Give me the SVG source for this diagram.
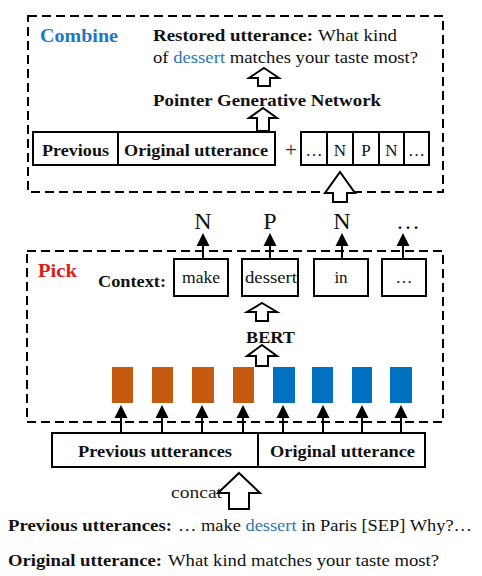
<svg xmlns="http://www.w3.org/2000/svg" width="482" height="576" viewBox="0 0 482 576">
<style>
text{font-family:"Liberation Serif","Times New Roman",serif;fill:#111}
.b{font-weight:bold}
.box{fill:#fff;stroke:#000;stroke-width:2}
.dash{fill:none;stroke:#000;stroke-width:2;stroke-dasharray:9 5}
.hol{fill:#fff;stroke:#000;stroke-width:2;stroke-linejoin:miter}
.con{stroke:#000;stroke-width:2;fill:none}
.blue{fill:#2E75B6}
.or{fill:#C55A11}
.bl{fill:#0070C0}
</style>
<defs>
<marker id="ah" markerUnits="userSpaceOnUse" markerWidth="14" markerHeight="14" viewBox="0 0 14 14" refX="5" refY="7" orient="auto">
<path d="M0,0.5 L13,7 L0,13.5 Z" fill="#000"/>
</marker>
</defs>
<rect width="482" height="576" fill="#fff"/>

<g id="combine">
<rect class="dash" x="28" y="16" width="415" height="176"/>
<text x="40" y="42" font-size="18" class="b" style="fill:#1F77C0" textLength="78" lengthAdjust="spacingAndGlyphs">Combine</text>
<text x="153" y="41" font-size="17" class="b" textLength="160" lengthAdjust="spacingAndGlyphs">Restored utterance:</text>
<text x="318" y="41" font-size="17" textLength="79" lengthAdjust="spacingAndGlyphs">What kind</text>
<text x="153" y="63" font-size="17" textLength="265" lengthAdjust="spacingAndGlyphs">of <tspan class="blue">dessert</tspan> matches your taste most?</text>
<text x="153" y="106" font-size="17" class="b" textLength="228" lengthAdjust="spacingAndGlyphs">Pointer Generative Network</text>
</g>

<g id="seqbox">
<rect class="box" x="33" y="132" width="242" height="33"/>
<line class="con" x1="118" y1="132" x2="118" y2="165"/>
<text x="42" y="156" font-size="17" class="b" textLength="67" lengthAdjust="spacingAndGlyphs">Previous</text>
<text x="124" y="156" font-size="17" class="b" textLength="144" lengthAdjust="spacingAndGlyphs">Original utterance</text>
</g>

<g id="plus">
<text x="291" y="157" font-size="22" text-anchor="middle" style="fill:#333">+</text>
</g>

<g id="tagbox">
<rect class="box" x="301" y="132" width="128" height="33"/>
<line class="con" x1="327" y1="132" x2="327" y2="165"/>
<line class="con" x1="353" y1="132" x2="353" y2="165"/>
<line class="con" x1="379" y1="132" x2="379" y2="165"/>
<line class="con" x1="404" y1="132" x2="404" y2="165"/>
<text x="314" y="156" font-size="17" text-anchor="middle">…</text>
<text x="340" y="156" font-size="17" text-anchor="middle">N</text>
<text x="366" y="156" font-size="17" text-anchor="middle">P</text>
<text x="391.5" y="156" font-size="17" text-anchor="middle">N</text>
<text x="416.5" y="156" font-size="17" text-anchor="middle">…</text>
</g>

<g id="tags">
<text x="203" y="229" font-size="24" text-anchor="middle">N</text>
<text x="270" y="229" font-size="24" text-anchor="middle">P</text>
<text x="342" y="229" font-size="24" text-anchor="middle">N</text>
<text x="408" y="229" font-size="24" text-anchor="middle">…</text>
</g>

<g id="pick">
<rect class="dash" x="27" y="251" width="416" height="171"/>
<text x="38" y="277" font-size="18" class="b" style="fill:#E01B1B" textLength="39" lengthAdjust="spacingAndGlyphs">Pick</text>
<text x="98" y="287" font-size="17" class="b" textLength="68" lengthAdjust="spacingAndGlyphs">Context:</text>
<text x="246" y="343" font-size="17" class="b" textLength="49" lengthAdjust="spacingAndGlyphs">BERT</text>
</g>

<g id="context">
<rect class="box" x="174" y="259" width="54" height="37"/>
<text x="182" y="283" font-size="17" textLength="38" lengthAdjust="spacingAndGlyphs">make</text>
<rect class="box" x="242" y="259" width="56" height="37"/>
<text x="245" y="283" font-size="17" textLength="52" lengthAdjust="spacingAndGlyphs">dessert</text>
<rect class="box" x="314" y="259" width="54" height="37"/>
<text x="341" y="283" font-size="17" text-anchor="middle">in</text>
<rect class="box" x="382" y="259" width="44" height="37"/>
<text x="404" y="283" font-size="17" text-anchor="middle">…</text>
</g>

<g id="embeddings">
<rect class="or" x="112" y="367" width="21" height="36"/>
<rect class="or" x="152" y="367" width="21" height="36"/>
<rect class="or" x="192" y="367" width="22" height="36"/>
<rect class="or" x="233" y="367" width="21" height="36"/>
<rect class="bl" x="273" y="367" width="22" height="36"/>
<rect class="bl" x="312" y="367" width="21" height="36"/>
<rect class="bl" x="352" y="367" width="20" height="36"/>
<rect class="bl" x="390" y="367" width="22" height="36"/>
</g>

<g id="inputbox">
<rect class="box" x="52" y="433" width="373" height="34"/>
<line class="con" x1="258" y1="433" x2="258" y2="467"/>
<text x="78" y="457" font-size="17" class="b" textLength="154" lengthAdjust="spacingAndGlyphs">Previous utterances</text>
<text x="270" y="457" font-size="17" class="b" textLength="145" lengthAdjust="spacingAndGlyphs">Original utterance</text>
</g>

<g id="examples">
<text x="171" y="498" font-size="17" style="fill:#222" textLength="51" lengthAdjust="spacingAndGlyphs">concat</text>
<text x="8" y="531" font-size="17" class="b" textLength="164" lengthAdjust="spacingAndGlyphs">Previous utterances:</text>
<text x="178" y="531" font-size="17" textLength="294" lengthAdjust="spacingAndGlyphs">… make <tspan class="blue">dessert</tspan> in Paris [SEP] Why?…</text>
<text x="8" y="566" font-size="17" class="b" textLength="154" lengthAdjust="spacingAndGlyphs">Original utterance:</text>
<text x="168" y="566" font-size="17" textLength="271" lengthAdjust="spacingAndGlyphs">What kind matches your taste most?</text>
</g>

<g id="connectors">
<path class="hol" d="M264,68 L279,78 L270,78 L270,86 L258,86 L258,78 L249,78 Z"/>
<path class="hol" d="M263,108 L277,118 L269,118 L269,131 L257,131 L257,118 L249,118 Z"/>
<path class="hol" d="M340,172 L355,193 L347,193 L347,202 L333,202 L333,193 L325,193 Z"/>
<path class="hol" d="M262,303 L277,312 L268,312 L268,321 L256,321 L256,312 L247,312 Z"/>
<path class="hol" d="M262,345 L277,356 L268,356 L268,366 L256,366 L256,356 L247,356 Z"/>
<path class="hol" d="M239,473 L260,493 L249,493 L249,509 L229,509 L229,493 L218,493 Z"/>
<line class="con" x1="203" y1="259" x2="203" y2="241" marker-end="url(#ah)"/>
<line class="con" x1="270" y1="259" x2="270" y2="241" marker-end="url(#ah)"/>
<line class="con" x1="342" y1="259" x2="342" y2="241" marker-end="url(#ah)"/>
<line class="con" x1="403" y1="259" x2="403" y2="241" marker-end="url(#ah)"/>
<line class="con" x1="121" y1="433" x2="121" y2="413" marker-end="url(#ah)"/>
<line class="con" x1="162" y1="433" x2="162" y2="413" marker-end="url(#ah)"/>
<line class="con" x1="202" y1="433" x2="202" y2="413" marker-end="url(#ah)"/>
<line class="con" x1="243" y1="433" x2="243" y2="413" marker-end="url(#ah)"/>
<line class="con" x1="283" y1="433" x2="283" y2="413" marker-end="url(#ah)"/>
<line class="con" x1="323" y1="433" x2="323" y2="413" marker-end="url(#ah)"/>
<line class="con" x1="362" y1="433" x2="362" y2="413" marker-end="url(#ah)"/>
<line class="con" x1="401" y1="433" x2="401" y2="413" marker-end="url(#ah)"/>
</g>
</svg>
